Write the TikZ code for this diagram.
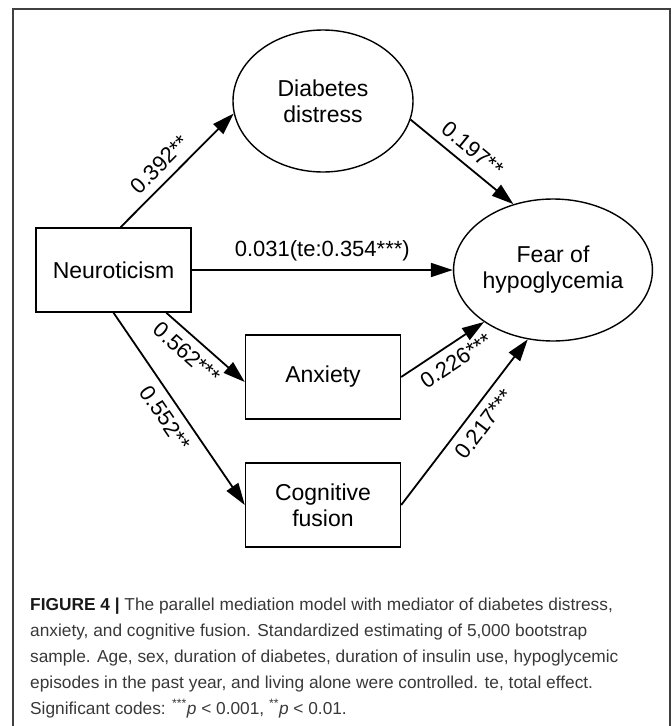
\documentclass[tikz,border=0pt]{standalone}
\usepackage{fontspec}
\setmainfont{Liberation Sans}
\usetikzlibrary{shapes,arrows.meta}

\tikzset{
  latent/.style={ellipse, draw, line width=1.4pt, minimum width=180pt, minimum height=142pt, inner sep=0pt, align=center, font=\fontsize{23}{26}\selectfont},
  observed/.style={rectangle, draw, line width=1.4pt, minimum width=155pt, minimum height=84pt, inner sep=0pt, align=center, font=\fontsize{23}{26}\selectfont},
  effect/.style={->, line width=1.8pt},
  coef/.style={font=\fontsize{22}{26}\selectfont, sloped, inner sep=8pt},
  caption/.style={anchor=north west, inner sep=0pt, align=left, text=black!78, font=\fontsize{17.3}{26}\selectfont}
}

\begin{document}
\begin{tikzpicture}[x=1pt, y=-1pt, >={Triangle[length=22pt,width=14pt]}]
%%%
\useasboundingbox (0,0) rectangle (672,726);

% outer frame, open at the bottom
\draw [color=black!75, line width=1.5pt] (13,726) -- (13,9) -- (670,9) -- (670,726);

% variables
\node[observed] (neuro) at (113.5,270) {Neuroticism};
\node[latent] (dd) at (323,101) {Diabetes\\distress};
\node[latent] (fear) at (553,270) {Fear of\\hypoglycemia};
\node[observed] (anx) at (323,377) {Anxiety};
\node[observed] (cog) at (323,505) {Cognitive\\fusion};

% arrows
\draw[effect] ([xshift=7pt]neuro.north) -- (dd.188) node[coef, pos=0.45, above] {0.392**};
\draw[effect] (dd.-12) -- (fear.121) node[coef, pos=0.5, above] {0.197**};
\draw[effect] (neuro) -- (fear) node[coef, midway, above] {0.031(te:0.354***)};
\draw[effect] (neuro.-39) -- ([yshift=-5pt]anx.west) node[coef, pos=0.4, below] {0.562***};
\draw[effect] (neuro.south) -- (cog.west) node[coef, midway, below] {0.552**};
\draw[effect] (anx.east) -- (fear.217) node[coef, pos=0.55, below] {0.226***};
\draw[effect] (cog.east) -- (fear.250) node[coef, pos=0.55, below] {0.217***};

% caption
\node[caption] (cap) at (30,597.5) {{\color{black!90}\bfseries FIGURE 4 |} The parallel mediation model with mediator of diabetes distress,\\
anxiety, and cognitive fusion. Standardized estimating of 5,000 bootstrap\\
sample. Age, sex, duration of diabetes, duration of insulin use, hypoglycemic\\
episodes in the past year, and living alone were controlled. te, total effect.\\
Significant codes: \textsuperscript{***}\textit{p} < 0.001, \textsuperscript{**}\textit{p} < 0.01.};
%%%
\end{tikzpicture}
\end{document}
